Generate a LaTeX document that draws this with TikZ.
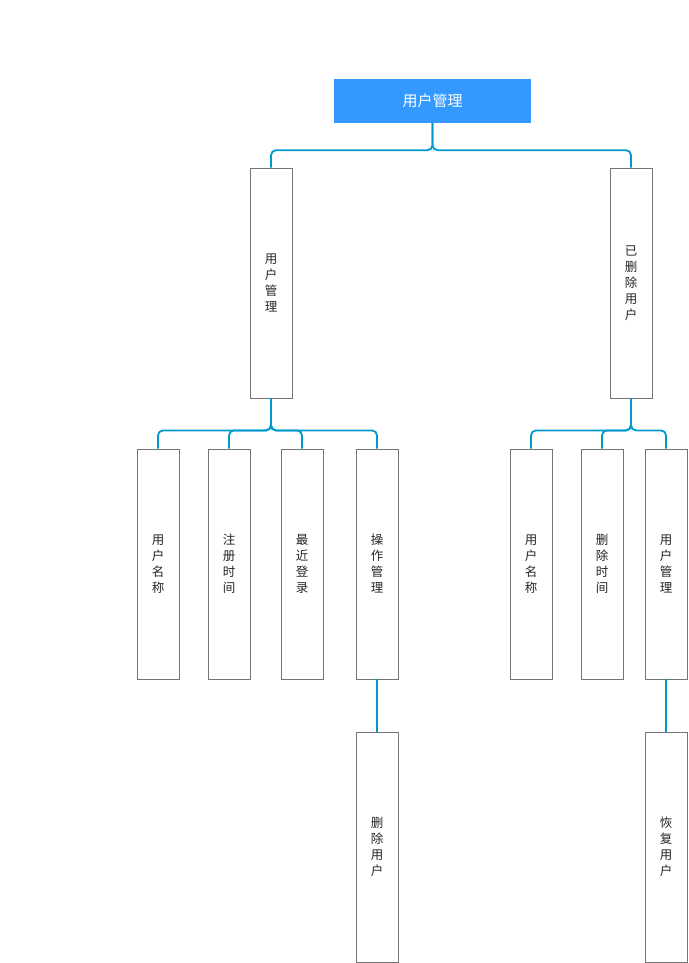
\documentclass[tikz,border=0pt]{standalone}
\usepackage{fontspec}
\setmainfont{Noto Sans CJK SC}
\definecolor{linkc}{RGB}{0,153,204}
\definecolor{topfill}{RGB}{51,153,255}
\definecolor{boxline}{RGB}{117,117,117}
\begin{document}
\begin{tikzpicture}[x=1pt,y=-1pt,
  topbox/.style={rectangle,fill=topfill,draw=none,minimum width=197pt,minimum height=44pt,inner sep=0pt,text=white,font=\fontsize{15}{17}\selectfont},
  vbox/.style={rectangle,draw=boxline,line width=0.8pt,fill=white,minimum width=42pt,minimum height=230pt,inner sep=0pt,align=center,text=black!85,font=\fontsize{12.5}{16}\selectfont},
  link/.style={draw=linkc,line width=1.8pt,rounded corners=5pt}
]
\useasboundingbox (0,0) rectangle (688,963);
\node[topbox] (root) at (432.5,101) {用户管理};
\node[vbox] (um) at (271,283) {用\\户\\管\\理};
\node[vbox] (del) at (631,283) {已\\删\\除\\用\\户};
\node[vbox] (a1) at (158,564) {用\\户\\名\\称};
\node[vbox] (a2) at (229,564) {注\\册\\时\\间};
\node[vbox] (a3) at (302,564) {最\\近\\登\\录};
\node[vbox] (a4) at (377,564) {操\\作\\管\\理};
\node[vbox] (b1) at (531,564) {用\\户\\名\\称};
\node[vbox] (b2) at (602,564) {删\\除\\时\\间};
\node[vbox] (b3) at (666,564) {用\\户\\管\\理};
\node[vbox] (c1) at (377,847) {删\\除\\用\\户};
\node[vbox] (d1) at (666,847) {恢\\复\\用\\户};
\foreach \c in {um,del}
  \draw[link] (root.south) -- ++(0,27) -| (\c.north);
\foreach \c in {a1,a2,a3,a4}
  \draw[link] (um.south) -- ++(0,32) -| (\c.north);
\foreach \c in {b1,b2,b3}
  \draw[link] (del.south) -- ++(0,32) -| (\c.north);
\draw[link] (a4.south) -- (c1.north);
\draw[link] (b3.south) -- (d1.north);
\end{tikzpicture}
\end{document}
